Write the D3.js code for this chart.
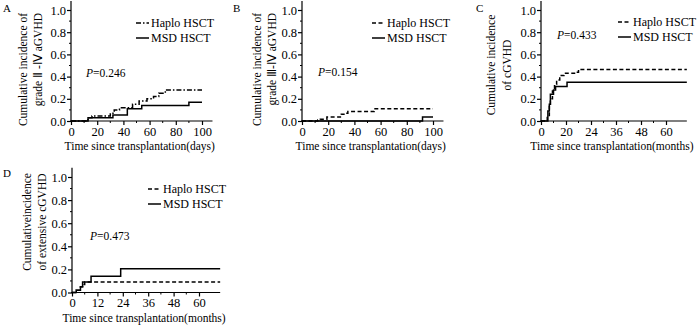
<!DOCTYPE html>
<html>
<head>
<meta charset="UTF-8">
<script src="https://d3js.org/d3.v7.min.js"></script>
<style>
  body { margin: 0; background: #fff; }
  svg text { font-family: "Liberation Serif", "Times New Roman", serif; fill: #000; }
</style>
</head>
<body>
<svg id="fig" width="700" height="325"></svg>
<script>
// step data [time, cumulative incidence]
const haploA = [[0,0],[13,0.03],[16,0.045],[30,0.07],[33,0.1],[37,0.12],[47,0.15],[52,0.18],[58,0.2],[63,0.22],[67,0.25],[72,0.28],[100,0.28]];
const msdA   = [[0,0],[13,0.03],[32,0.055],[43,0.11],[54,0.14],[90,0.17],[100,0.17]];
const haploB = [[0,0],[12,0.01],[14,0.015],[19,0.035],[30,0.06],[32,0.07],[35,0.085],[55,0.11],[100,0.11]];
const msdB   = [[0,0],[92,0.035],[100,0.035]];
const haploC = [[0,0],[3,0.05],[4,0.15],[4.5,0.2],[5.5,0.27],[6.5,0.33],[7.5,0.37],[9,0.41],[11,0.43],[17,0.44],[18,0.465],[70,0.465]];
const msdC   = [[0,0],[3.3,0.09],[4,0.15],[4.5,0.24],[6,0.28],[7,0.31],[12.5,0.35],[70,0.35]];
const haploD = [[0,0],[2,0.02],[4,0.05],[5,0.07],[6,0.09],[70,0.09]];
const msdD   = [[0,0],[2,0.02],[4,0.05],[5,0.09],[9,0.14],[23,0.205],[70,0.205]];

const yTicks = [0, 0.2, 0.4, 0.6, 0.8, 1.0];
const dayTicks = [0, 20, 40, 60, 80, 100];
const monthTicks = [0, 12, 24, 36, 48, 60];
const monthLabelsC = ["0", "20", "24", "36", "48", "60"];
const monthLabelsD = ["0", "12", "24", "36", "48", "60"];
const seriesNames = ["Haplo HSCT", "MSD HSCT"];
const pValues = ["0.246", "0.154", "0.433", "0.473"];

const svg = d3.select("#fig");

const panels = [
  {letter: "A", lx: 3, ly: 12, x0: 71, x1: 202, xMax: 100, xEnd: 108, y0: 121, y1: 10,
   xt: dayTicks, xl: dayTicks.map(String), xTitle: "Time since transplantation(days)",
   yTitle: ["Cumulative incidence of", "grade \u2161 -\u2163 aGVHD"], yAnchor: "end", yTx: [27, 42], yTy: 13,
   haplo: haploA, msd: msdA, haploDash: "5,2,1.5,2", p: pValues[0], px: 86, py: 77, legX: 136, legY: 23},
  {letter: "B", lx: 233, ly: 12, x0: 302, x1: 433, xMax: 100, xEnd: 108, y0: 121, y1: 10,
   xt: dayTicks, xl: dayTicks.map(String), xTitle: "Time since transplantation(days)",
   yTitle: ["Cumulative incidence of", "grade \u2162-\u2163 aGVHD"], yAnchor: "end", yTx: [261, 276], yTy: 13,
   haplo: haploB, msd: msdB, haploDash: "4,2.5", p: pValues[1], px: 318, py: 76, legX: 372, legY: 23},
  {letter: "C", lx: 476, ly: 12, x0: 541, x1: 666, xMax: 60, xEnd: 70, y0: 121, y1: 10,
   xt: monthTicks, xl: monthLabelsC, xTitle: "Time since transplantation(months)",
   yTitle: ["Cumulative incidence", "of cGVHD"], yAnchor: "middle", yTx: [495, 511], yTy: 65,
   haplo: haploC, msd: msdC, haploDash: "4,2.5", p: pValues[2], px: 557, py: 39, legX: 618, legY: 22},
  {letter: "D", lx: 3, ly: 177, x0: 72, x1: 199, xMax: 60, xEnd: 70, y0: 292.5, y1: 177,
   xt: monthTicks, xl: monthLabelsD, xTitle: "Time since transplantation(months)",
   yTitle: ["Cumulativeincidence", "of extensive cGVHD"], yAnchor: "middle", yTx: [31, 46], yTy: 222,
   haplo: haploD, msd: msdD, haploDash: "4,2.5", p: pValues[3], px: 90, py: 240, legX: 148, legY: 189}
];

panels.forEach(p => {
  const g = svg.append("g");
  const x = d3.scaleLinear().domain([0, p.xMax]).range([p.x0, p.x1]);
  const y = d3.scaleLinear().domain([0, 1]).range([p.y0, p.y1]);

  g.append("text").attr("x", p.lx).attr("y", p.ly).style("font-size", "11px").text(p.letter);

  // y axis
  const yAx = g.append("g").attr("transform", `translate(${p.x0},0)`)
    .call(d3.axisLeft(y).tickValues(yTicks).tickFormat(d3.format(".1f")).tickSize(4).tickSizeOuter(0));
  yAx.select(".domain").attr("d", `M0,${p.y0}V${y(1.08)}`);
  yAx.selectAll(".tick text").attr("x", -5).style("font-size", "12.5px");
  d3.range(0.1, 1.01, 0.2).forEach(v => {
    yAx.append("line").attr("x1", -2).attr("x2", 0).attr("y1", y(v)).attr("y2", y(v)).attr("stroke", "#000");
  });

  // x axis
  const xAx = g.append("g").attr("transform", `translate(0,${p.y0})`)
    .call(d3.axisBottom(x).tickValues(p.xt).tickFormat((d, i) => p.xl[i]).tickSize(4).tickSizeOuter(0));
  xAx.select(".domain").attr("d", `M${p.x0 - 1},0H${x(p.xEnd)}`);
  xAx.selectAll(".tick text").attr("y", 6).style("font-size", "12.5px");
  p.xt.slice(0, -1).forEach((v, i) => {
    const m = (v + p.xt[i + 1]) / 2;
    xAx.append("line").attr("x1", x(m)).attr("x2", x(m)).attr("y1", 0).attr("y2", 2).attr("stroke", "#000");
  });
  g.selectAll(".domain, .tick line").attr("stroke", "#000").attr("stroke-width", 1.2);

  g.append("text").attr("x", (p.x0 + x(p.xEnd)) / 2 - 2).attr("y", p.y0 + 29)
    .attr("text-anchor", "middle").style("font-size", "11.5px").text(p.xTitle);

  // y title, two rotated lines
  p.yTitle.forEach((t, i) => {
    g.append("text").attr("transform", `translate(${p.yTx[i]},${p.yTy}) rotate(-90)`)
      .attr("text-anchor", p.yAnchor).style("font-size", "11.5px").text(t);
  });

  // curves
  const line = d3.line().x(d => x(d[0])).y(d => y(d[1])).curve(d3.curveStepAfter);
  g.append("path").datum(p.msd).attr("d", line).attr("fill", "none").attr("stroke", "#000").attr("stroke-width", 1.5);
  g.append("path").datum(p.haplo).attr("d", line).attr("fill", "none").attr("stroke", "#000")
    .attr("stroke-width", 1.5).attr("stroke-dasharray", p.haploDash);

  // p value
  g.append("text").attr("x", p.px).attr("y", p.py).style("font-size", "11.5px")
    .call(t => { t.append("tspan").style("font-style", "italic").text("P"); t.append("tspan").text("=" + p.p); });

  // legend
  seriesNames.forEach((name, i) => {
    const ly = p.legY + i * 15;
    g.append("line").attr("x1", p.legX).attr("x2", p.legX + 13).attr("y1", ly).attr("y2", ly)
      .attr("stroke", "#000").attr("stroke-width", 1.5)
      .attr("stroke-dasharray", i === 0 ? p.haploDash : null);
    g.append("text").attr("x", p.legX + 15).attr("y", ly + 4).style("font-size", "12px").text(name);
  });
});
</script>
</body>
</html>
